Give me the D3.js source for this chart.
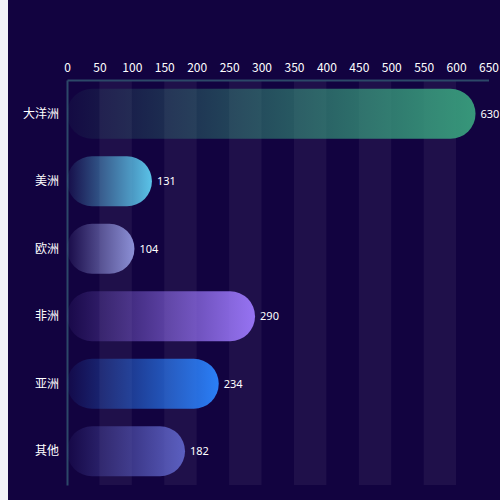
<!DOCTYPE html>
<html><head><meta charset="utf-8">
<script src="https://cdn.jsdelivr.net/npm/d3@7"></script>
<style>html,body{margin:0;padding:0;background:#f1f2f7;}svg{display:block;}</style>
</head><body>
<svg id="c" width="500" height="500"></svg>
<script>
const categories = ["大洋洲","美洲","欧洲","非洲","亚洲","其他"];
const values = [630, 131, 104, 290, 234, 182];
const barColors = ["#37977a","#5bc3e8","#8c90d6","#9673f2","#2b7ff7","#5b5fc0"];
const xTicks = [0,50,100,150,200,250,300,350,400,450,500,550,600,650];

const svg = d3.select("#c");
svg.append("rect").attr("x",8).attr("y",0).attr("width",492).attr("height",500).attr("fill","#120340");

const pLeft = 67, pRight = 488.5, pTop = 80, pBottom = 485;
const x = d3.scaleLinear().domain([0,650]).range([pLeft,pRight]);
const y = d3.scaleBand().domain(categories).range([pTop,pBottom]);

// split areas
const bands = d3.pairs(xTicks);
svg.append("g").selectAll("rect").data(bands).join("rect")
  .attr("x",d=>x(d[0])).attr("y",pTop).attr("width",d=>x(d[1])-x(d[0])).attr("height",pBottom-pTop)
  .attr("fill",(d,i)=> i%2===1 ? "rgba(250,250,250,0.055)" : "none");

// gradients
const defs = svg.append("defs");
barColors.forEach((c,i)=>{
  const g = defs.append("linearGradient").attr("id","g"+i).attr("x1","0%").attr("x2","100%").attr("y1","0%").attr("y2","0%");
  g.append("stop").attr("offset","0%").attr("stop-color",c).attr("stop-opacity",0.05);
  g.append("stop").attr("offset","100%").attr("stop-color",c).attr("stop-opacity",1);
});

// axes
const xAxis = d3.axisTop(x).tickValues(xTicks).tickSize(0).tickPadding(8);
const gx = svg.append("g").attr("transform",`translate(0,${pTop})`).call(xAxis);
gx.select(".domain").attr("stroke","#2c4868").attr("stroke-width",2);
gx.selectAll("text").attr("fill","#ffffff").attr("font-size",12).attr("font-family","'Noto Sans CJK SC','Noto Sans',sans-serif");

const yAxis = d3.axisLeft(y).tickSize(0).tickPadding(8);
const gy = svg.append("g").attr("transform",`translate(${pLeft},0)`).call(yAxis);
gy.select(".domain").attr("stroke","#2c4868").attr("stroke-width",2);
gy.selectAll("text").attr("fill","#ffffff").attr("font-size",12).attr("font-family","'Noto Sans CJK SC','Noto Sans',sans-serif");

// bars
const bh = 50;
svg.append("g").selectAll("rect").data(values).join("rect")
  .attr("x",x(0)).attr("y",(d,i)=>y(categories[i])+y.bandwidth()/2-bh/2)
  .attr("width",d=>x(d)-x(0)).attr("height",bh)
  .attr("rx",bh/2).attr("ry",bh/2)
  .attr("fill",(d,i)=>`url(#g${i})`);

svg.append("g").selectAll("text").data(values).join("text")
  .attr("x",d=>x(d)+5).attr("y",(d,i)=>y(categories[i])+y.bandwidth()/2)
  .attr("dy","0.35em").attr("fill","#ffffff").attr("font-size",11)
  .attr("font-family","'Noto Sans','Noto Sans CJK SC',sans-serif")
  .text(d=>d);
</script>
</body></html>
